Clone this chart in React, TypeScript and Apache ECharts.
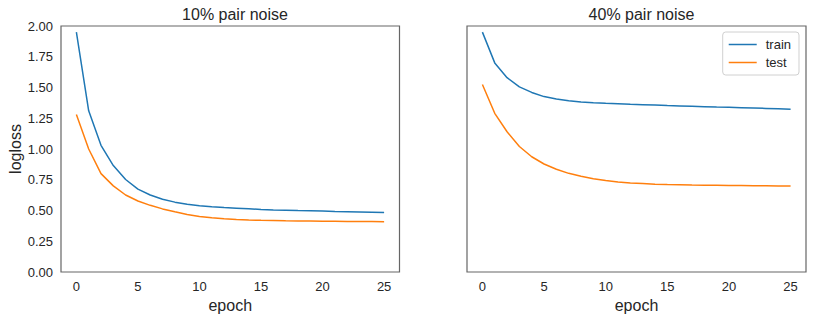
import React, { useEffect, useRef } from "react";
import * as echarts from "echarts";

const epochs = Array.from({ length: 26 }, (_, i) => i);
const xTicks = [0, 5, 10, 15, 20, 25];
const titles = ["10% pair noise", "40% pair noise"];

const train10 = [1.95, 1.31, 1.03, 0.865, 0.752, 0.674, 0.626, 0.592, 0.568, 0.551, 0.539, 0.531, 0.524, 0.519, 0.514, 0.509, 0.505, 0.502, 0.499, 0.497, 0.495, 0.492, 0.49, 0.488, 0.486, 0.484];
const test10 = [1.28, 1.0, 0.8, 0.7, 0.626, 0.577, 0.542, 0.513, 0.489, 0.468, 0.452, 0.441, 0.433, 0.427, 0.423, 0.42, 0.418, 0.416, 0.415, 0.414, 0.413, 0.412, 0.411, 0.41, 0.41, 0.409];
const train40 = [1.95, 1.7, 1.58, 1.505, 1.46, 1.426, 1.407, 1.393, 1.383, 1.376, 1.371, 1.367, 1.363, 1.36, 1.357, 1.353, 1.35, 1.347, 1.344, 1.341, 1.339, 1.336, 1.333, 1.33, 1.327, 1.324];
const test40 = [1.525, 1.29, 1.14, 1.02, 0.937, 0.878, 0.835, 0.802, 0.778, 0.759, 0.743, 0.732, 0.724, 0.719, 0.714, 0.711, 0.709, 0.707, 0.706, 0.705, 0.704, 0.703, 0.702, 0.701, 0.7, 0.699];

const BLUE = "#1f77b4";
const ORANGE = "#ff7f0e";
const FONT = "Liberation Sans";
const TXT = "#262626";

const pairs = (vals: number[]) => epochs.map((e, i) => [e, vals[i]]);

export default function App() {
  const ref = useRef<HTMLDivElement>(null);
  useEffect(() => {
    if (!ref.current) return;
    const chart = echarts.init(ref.current, undefined, { renderer: "svg" });
    const grids = [
      { left: 61, right: 413.5, top: 26, bottom: 48 },
      { left: 467, right: 7, top: 26, bottom: 48 },
    ];
    const xAxis = [0, 1].map((gi) => ({
      type: "value",
      gridIndex: gi,
      min: -1.25,
      max: 26.25,
      name: "epoch",
      nameLocation: "middle",
      nameGap: 21,
      nameTextStyle: { fontFamily: FONT, fontSize: 16, color: TXT },
      axisLine: { show: false },
      axisTick: { show: false },
      splitLine: { show: false },
      axisLabel: {
        customValues: xTicks,
        fontFamily: FONT,
        fontSize: 13,
        color: TXT,
        margin: 8,
      },
    }));
    const yAxis = [0, 1].map((gi) => ({
      type: "value",
      gridIndex: gi,
      min: 0,
      max: 2,
      interval: 0.25,
      name: gi === 0 ? "logloss" : "",
      nameLocation: "middle",
      nameGap: 38,
      nameTextStyle: { fontFamily: FONT, fontSize: 16, color: TXT },
      axisLine: { show: false },
      axisTick: { show: false },
      splitLine: { show: false },
      axisLabel: {
        show: gi === 0,
        formatter: (v: number) => v.toFixed(2),
        fontFamily: FONT,
        fontSize: 13,
        color: TXT,
        margin: 8,
      },
    }));
    const mk = (name: string, vals: number[], color: string, gi: number) => ({
      type: "line",
      name,
      xAxisIndex: gi,
      yAxisIndex: gi,
      data: pairs(vals),
      showSymbol: false,
      symbol: "none",
      lineStyle: { color, width: 1.5 },
      itemStyle: { color },
    });
    chart.setOption({
      animation: false,
      backgroundColor: "#ffffff",
      title: [
        { text: titles[0], left: 230, top: 1, textAlign: "center", textStyle: { fontFamily: FONT, fontSize: 16, fontWeight: "normal", color: TXT } },
        { text: titles[1], left: 636.5, top: 1, textAlign: "center", textStyle: { fontFamily: FONT, fontSize: 16, fontWeight: "normal", color: TXT } },
      ],
      legend: {
        data: ["train", "test"],
        orient: "vertical",
        right: 14,
        top: 32,
        icon: "rect",
        itemWidth: 28,
        itemHeight: 1.5,
        itemGap: 5,
        padding: [6, 8, 6, 6],
        backgroundColor: "#ffffff",
        borderColor: "#d0d0d0",
        borderWidth: 1,
        borderRadius: 3,
        textStyle: { fontFamily: FONT, fontSize: 13, color: TXT, padding: [0, 0, 0, 4] },
      },
      grid: grids.map((g) => ({ ...g, show: true, borderColor: "#666666", borderWidth: 1.2, backgroundColor: "transparent" })),
      xAxis,
      yAxis,
      series: [
        mk("train", train10, BLUE, 0),
        mk("test", test10, ORANGE, 0),
        mk("train", train40, BLUE, 1),
        mk("test", test40, ORANGE, 1),
      ],
    });
    return () => chart.dispose();
  }, []);
  return <div ref={ref} style={{ position: "absolute", left: 0, top: 0, width: 813, height: 320 }} />;
}
